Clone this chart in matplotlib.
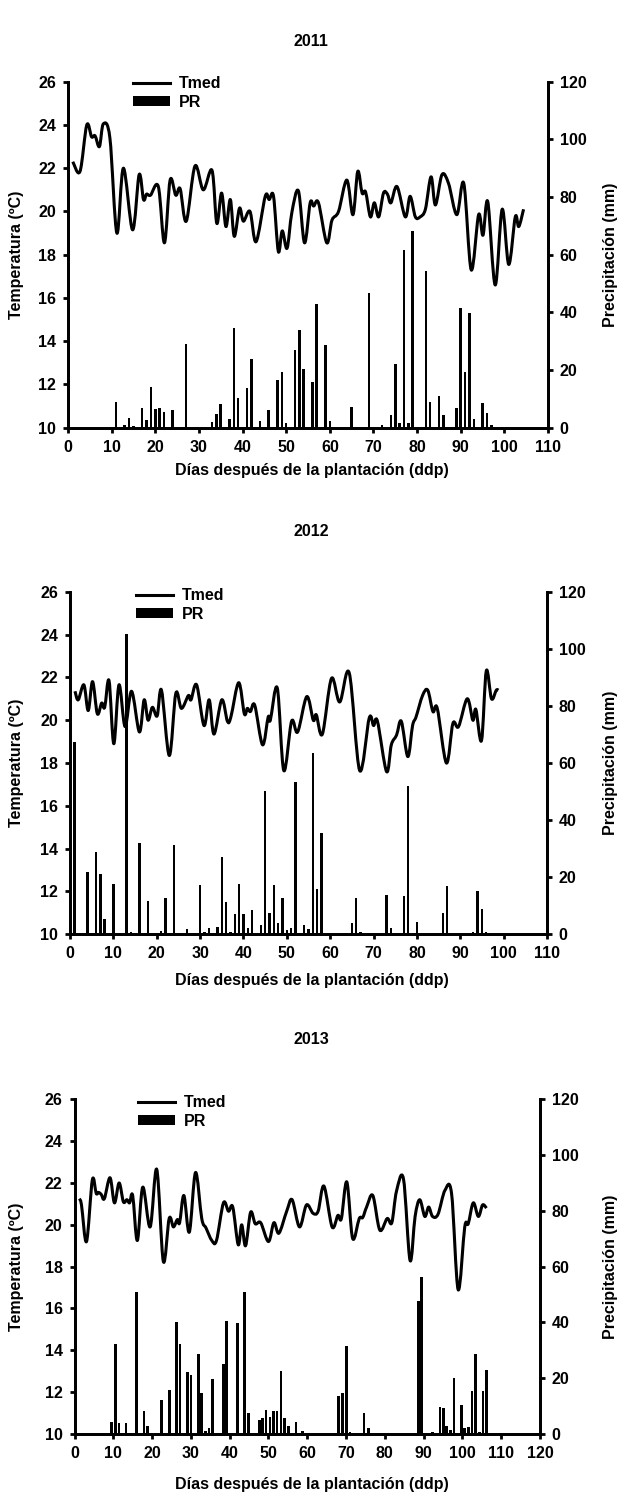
import matplotlib
matplotlib.use("Agg")
import matplotlib.pyplot as plt
from matplotlib.lines import Line2D
from matplotlib.patches import Patch, PathPatch
from matplotlib.path import Path

plt.rcParams['font.family'] = ['Liberation Sans', 'DejaVu Sans']
plt.rcParams['font.weight'] = 'bold'
FS = 11.5
plt.rcParams['font.size'] = FS

# ---- 2011 ----
t11_days = [1.1, 2.75, 4.3, 5.4, 6.2, 7.2, 8.1, 9.6, 11.2, 12.7, 14.8, 16.3, 17.3, 18.0, 18.9,
            20.7, 22.1, 23.4, 24.7, 25.7, 27.1, 29.1, 31.0, 33.0, 34.1, 35.2, 36.2, 37.2, 38.1,
            39.3, 40.2, 41.7, 43.1, 45.2, 46.1, 47.1, 48.2, 49.1, 50.2, 51.3, 52.8, 54.2, 55.5,
            56.3, 57.4, 59.3, 60.5, 62.0, 63.9, 65.3, 66.4, 67.4, 68.2, 69.3, 70.2, 71.2, 72.3,
            73.2, 74.0, 75.4, 77.3, 78.4, 79.6, 80.7, 81.9, 83.2, 84.2, 85.7, 87.2, 89.1, 90.7,
            92.4, 94.1, 95.1, 96.2, 97.9, 99.5, 101.0, 102.5, 103.3, 104.4]
t11_vals = [22.3, 21.85, 24.0, 23.45, 23.5, 23.0, 24.05, 23.4, 19.0, 22.0, 19.15, 21.7, 20.55, 20.8, 20.75,
            21.15, 18.55, 21.45, 20.75, 21.05, 19.55, 22.1, 21.0, 21.9, 19.45, 20.85, 19.3, 20.55, 18.85,
            20.15, 19.55, 20.0, 18.6, 20.7, 20.55, 20.7, 18.15, 19.1, 18.3, 19.95, 20.95, 18.55, 20.4,
            20.25, 20.4, 18.55, 19.6, 20.0, 21.45, 19.85, 21.85, 20.85, 20.9, 19.75, 20.4, 19.75, 20.85,
            20.8, 20.4, 21.15, 19.75, 20.7, 19.75, 19.75, 20.1, 21.6, 20.3, 21.7, 21.3, 19.85, 21.3,
            17.3, 19.85, 18.9, 20.45, 16.6, 20.1, 17.55, 19.75, 19.3, 20.1]
p11_days = [11, 13, 14, 15, 17, 18, 19, 20, 21, 22, 24, 27, 33, 34, 35, 37, 38, 39, 41, 42, 44, 46,
            48, 49, 50, 52, 53, 54, 56, 57, 59, 60, 65, 69, 72, 74, 75, 76, 77, 78, 79, 82, 83, 85,
            86, 89, 90, 91, 92, 93, 95, 96, 97]
p11_vals = [9.0, 1.0, 3.5, 0.6, 6.9, 2.6, 14.2, 6.5, 7.0, 5.5, 6.1, 28.9, 2.1, 4.7, 8.1, 3.0, 34.7, 10.4,
            13.6, 24.0, 2.3, 6.3, 16.5, 19.2, 1.8, 26.8, 33.8, 20.2, 15.9, 43.0, 28.8, 2.3, 7.3, 46.8,
            0.9, 4.4, 22.2, 1.7, 61.6, 1.7, 68.3, 54.3, 8.8, 11.1, 4.4, 6.8, 41.6, 19.4, 39.9, 2.9,
            8.6, 5.0, 0.9]

# ---- 2012 ----
t12_days = [1.15, 1.9, 3.2, 4.2, 5.2, 6.3, 7.3, 8.0, 9.0, 10.1, 11.3, 12.7, 14.2, 16.0, 17.1, 18.0,
            19.0, 20.1, 21.1, 22.9, 24.4, 25.7, 27.3, 27.9, 29.2, 30.9, 32.1, 33.2, 35.0, 36.3, 37.1,
            38.9, 40.2, 40.9, 41.6, 42.6, 44.4, 45.7, 46.2, 47.8, 49.3, 51.1, 52.5, 54.6, 56.1, 56.8,
            58.2, 60.3, 62.2, 64.4, 66.8, 69.0, 70.0, 70.9, 73.0, 74.1, 75.3, 76.4, 77.9, 79.0, 79.8,
            81.3, 82.5, 83.7, 84.7, 86.8, 88.3, 89.6, 91.6, 92.9, 93.6, 94.9, 96.0, 97.2, 98.3, 98.8]
t12_vals = [21.35, 20.95, 21.65, 20.45, 21.8, 20.3, 20.8, 20.6, 21.85, 18.9, 21.65, 19.7, 21.35, 19.45,
            20.95, 20.0, 20.6, 20.2, 21.4, 18.35, 21.25, 20.55, 21.15, 20.95, 21.65, 19.75, 20.95,
            19.35, 20.95, 19.95, 20.15, 21.75, 20.3, 20.55, 20.4, 20.7, 18.85, 20.15, 20.0, 21.5,
            17.65, 19.95, 19.45, 21.1, 20.0, 20.25, 19.35, 21.95, 20.85, 22.2, 17.65, 20.1, 19.75,
            19.95, 17.6, 18.85, 19.3, 19.95, 18.3, 19.75, 20.15, 21.15, 21.4, 20.4, 20.55, 18.0,
            19.85, 19.7, 21.0, 20.0, 20.5, 19.05, 22.3, 21.0, 21.4, 21.4]
p12_days = [1, 4, 6, 7, 8, 10, 13, 14, 16, 18, 21, 22, 24, 27, 30, 31, 32, 34, 35, 36, 37, 38, 39, 40,
            41, 42, 44, 45, 46, 47, 48, 49, 50, 51, 52, 54, 55, 56, 57, 58, 65, 66, 67, 73, 74, 77,
            78, 80, 86, 87, 93, 94, 95, 96]
p12_vals = [67.2, 21.9, 28.9, 21.0, 5.3, 17.6, 105.2, 0.9, 31.9, 11.8, 1.2, 12.6, 31.3, 1.9, 17.1, 0.9,
            2.1, 2.6, 27.0, 11.2, 0.9, 7.2, 17.5, 7.0, 2.1, 8.5, 3.3, 50.3, 7.6, 17.3, 3.9, 12.6, 1.4,
            2.1, 53.2, 3.3, 1.7, 63.4, 15.8, 35.4, 3.9, 12.6, 0.9, 13.8, 2.1, 13.4, 52.1, 4.4, 7.6,
            16.9, 0.9, 15.3, 8.8, 0.9]

# ---- 2013 ----
t13_days = [1.25, 1.8, 3.1, 4.6, 5.6, 6.2, 6.9, 7.7, 9.15, 10.3, 11.5, 12.6, 13.5, 14.2, 15.0, 16.2,
            17.6, 19.5, 21.2, 22.9, 24.4, 25.5, 26.5, 27.1, 28.2, 29.6, 31.2, 32.8, 33.9, 35.4, 36.6,
            38.4, 39.7, 40.8, 42.2, 43.1, 44.1, 45.4, 46.6, 48.0, 50.0, 51.4, 52.7, 54.7, 56.1, 58.0,
            59.8, 61.5, 62.8, 64.3, 66.4, 67.9, 68.8, 70.2, 71.7, 73.4, 74.3, 75.3, 76.9, 78.7, 80.6,
            81.8, 83.0, 84.8, 86.5, 87.8, 89.0, 90.3, 91.3, 92.3, 93.7, 95.5, 97.2, 98.9, 100.6,
            101.5, 102.8, 104.1, 105.2, 106.2]
t13_vals = [21.25, 20.95, 19.2, 22.15, 21.5, 21.55, 21.45, 21.25, 22.25, 21.05, 22.0, 21.1, 21.2, 21.05,
            21.4, 19.25, 21.8, 19.9, 22.65, 18.25, 20.3, 19.9, 20.25, 20.1, 21.4, 19.65, 22.5, 20.3,
            19.85, 19.25, 19.25, 21.05, 20.65, 20.85, 19.05, 20.0, 19.0, 20.6, 20.05, 20.1, 19.2,
            20.1, 19.6, 20.65, 21.2, 19.9, 20.95, 20.55, 20.65, 21.85, 19.9, 20.45, 20.3, 22.05,
            19.35, 20.3, 20.35, 20.85, 21.4, 19.75, 20.3, 20.1, 21.6, 22.2, 18.3, 20.4, 21.2, 20.4,
            20.85, 20.4, 20.5, 21.65, 21.5, 16.9, 19.9, 20.05, 21.05, 20.4, 20.95, 20.8]
p13_days = [9.6, 10.5, 11.5, 13.3, 16.0, 17.9, 18.8, 22.5, 24.4, 26.3, 27.2, 29.1, 30.0, 31.9, 32.8,
            33.8, 34.7, 35.6, 37.3, 38.4, 39.2, 42.1, 43.9, 44.9, 47.6, 48.5, 49.4, 50.4, 51.3, 52.2,
            53.2, 54.1, 55.2, 57.1, 58.8, 68.0, 69.0, 70.2, 71.0, 74.6, 75.7, 88.6, 89.5, 92.2, 94.2,
            95.1, 95.9, 97.0, 97.8, 99.8, 100.6, 101.5, 102.5, 103.4, 104.4, 105.3, 106.2]
p13_vals = [4.2, 32.3, 3.8, 3.8, 50.9, 8.1, 2.8, 12.3, 15.6, 40.1, 32.1, 22.4, 21.2, 28.7, 14.7, 1.2,
            2.2, 19.8, 0.4, 25.1, 40.4, 39.9, 50.9, 7.4, 5.0, 5.7, 8.6, 6.0, 8.1, 8.1, 22.5, 5.6, 3.0,
            4.4, 1.2, 13.8, 14.6, 31.4, 0.6, 7.5, 2.2, 47.7, 56.3, 0.6, 9.8, 9.2, 3.0, 1.4, 20.1,
            10.5, 2.0, 2.6, 15.3, 28.7, 0.6, 15.3, 23.0]

W, H = 622, 1495
fig = plt.figure(figsize=(W / 100, H / 100), dpi=100)


def px(x, y):
    return x / W, 1 - y / H


def smooth_path(xs, ys):
    # excel-style smoothed line: bezier segments through every point
    verts = [(xs[0], ys[0])]
    codes = [Path.MOVETO]
    n = len(xs)
    for i in range(n - 1):
        x0, y0 = (xs[i - 1], ys[i - 1]) if i > 0 else (xs[i], ys[i])
        x1, y1 = xs[i], ys[i]
        x2, y2 = xs[i + 1], ys[i + 1]
        x3, y3 = (xs[i + 2], ys[i + 2]) if i + 2 < n else (x2, y2)
        t = 1 / 6
        verts += [(x1 + (x2 - x0) * t, y1 + (y2 - y0) * t),
                  (x2 - (x3 - x1) * t, y2 - (y3 - y1) * t),
                  (x2, y2)]
        codes += [Path.CURVE4] * 3
    return Path(verts, codes)


def draw_panel(box, title, title_y, xlab_y, tdays, temps, pdays, rain, xmax, barw, leg_xy):
    left, top, right, bottom = box
    ax = fig.add_axes([left / W, 1 - bottom / H, (right - left) / W, (bottom - top) / H])
    axp = ax.twinx()
    ax.set_zorder(axp.get_zorder() + 1)
    ax.patch.set_visible(False)

    axp.bar(pdays, rain, width=barw, color='black', linewidth=0)
    ax.add_patch(PathPatch(smooth_path(tdays, temps), facecolor='none', edgecolor='black',
                           lw=2.2, joinstyle='round', capstyle='butt'))

    ax.set_xlim(0, xmax)
    ax.set_ylim(10, 26)
    axp.set_ylim(0, 120)
    ax.set_xticks(range(0, xmax + 1, 10))
    ax.set_yticks(range(10, 27, 2))
    axp.set_yticks(range(0, 121, 20))

    for a in (ax, axp):
        a.spines['top'].set_visible(False)
        for s in ('left', 'right', 'bottom'):
            a.spines[s].set_linewidth(2)
        a.tick_params(direction='out', length=3.5, width=2, pad=5, labelsize=FS)

    fig.text(*px(311, title_y), title, ha='center', va='center', fontsize=FS, fontweight='bold')
    fig.text(*px(312, xlab_y), 'Días después de la plantación (ddp)', ha='center', va='center',
             fontsize=FS, fontweight='bold')
    cy = (top + bottom) / 2
    fig.text(*px(17, cy), 'Temperatura (ºC)', rotation=90, ha='center', va='center',
             fontsize=FS, fontweight='bold')
    fig.text(*px(610, cy), 'Precipitación (mm)', rotation=90, ha='center', va='center',
             fontsize=FS, fontweight='bold')

    handles = [Line2D([], [], color='black', lw=2.2), Patch(facecolor='black', edgecolor='none')]
    ax.legend(handles, ['Tmed', 'PR'], loc='upper left', bbox_to_anchor=px(*leg_xy),
              bbox_transform=fig.transFigure, frameon=False, borderpad=0, borderaxespad=0,
              handlelength=2.3, handleheight=0.6, handletextpad=0.6, labelspacing=0.25,
              prop={'weight': 'bold', 'size': FS})


draw_panel((68, 81.7, 548, 427.7), '2011', 42, 470, t11_days, t11_vals, p11_days, p11_vals,
           110, 0.6, (133, 76))
draw_panel((70, 591.7, 547, 934.3), '2012', 532, 981, t12_days, t12_vals, p12_days, p12_vals,
           110, 0.55, (136, 588))
draw_panel((74.5, 1099.3, 540, 1434), '2013', 1040, 1484, t13_days, t13_vals, p13_days, p13_vals,
           120, 0.7, (138, 1095))

fig.savefig('out.png', dpi=100)
